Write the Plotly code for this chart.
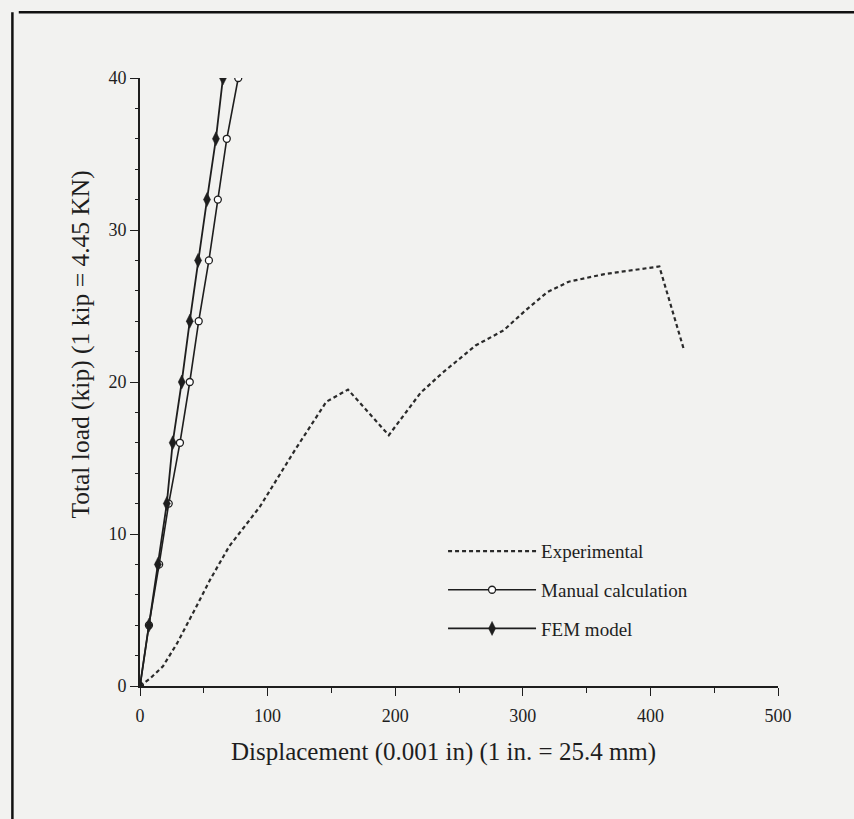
import plotly.graph_objects as go

# ---- data ----
exp_x = [0, 8, 18, 29, 44, 55, 70, 94, 122, 146, 163, 195, 220, 237, 263, 285, 302, 319, 336, 364, 407, 426]
exp_y = [0, 0.5, 1.3, 2.8, 5.2, 7.0, 9.2, 11.8, 15.6, 18.7, 19.5, 16.5, 19.3, 20.6, 22.4, 23.4, 24.7, 25.9, 26.6, 27.1, 27.6, 22.2]

load_steps = [0, 4, 8, 12, 16, 20, 24, 28, 32, 36, 40]
manual_x = [0, 7, 15, 22.5, 31.3, 39, 46, 54, 61, 68, 77]
fem_x = [0, 7, 14, 21, 25.6, 32.7, 39, 45.5, 52.5, 59.5, 65]

x_ticks = [0, 100, 200, 300, 400, 500]
y_ticks = [0, 10, 20, 30, 40]

FONT = "Liberation Serif"
INK = "#1e1e1e"

fig = go.Figure()
fig.add_trace(go.Scatter(
    x=exp_x, y=exp_y, mode="lines", name="Experimental", legendgroup="a",
    line=dict(color="#2a2a2a", width=2.2, dash="4px,3px"),
))
fig.add_trace(go.Scatter(
    x=manual_x, y=load_steps, mode="lines+markers", name="Manual calculation", legendgroup="b",
    line=dict(color=INK, width=1.6),
    marker=dict(symbol="circle", size=7, color="white", line=dict(color=INK, width=1.3)),
))
fig.add_trace(go.Scatter(
    x=fem_x, y=load_steps, mode="lines+markers", name="FEM model", legendgroup="c",
    line=dict(color=INK, width=1.8),
    marker=dict(symbol="diamond-tall", size=10, color=INK, line=dict(color=INK, width=0.5)),
))

axis_common = dict(
    showgrid=False, zeroline=False, showline=True, linecolor=INK, linewidth=1.6,
    ticks="outside", ticklen=8, tickwidth=1.4, tickcolor=INK,
    tickfont=dict(family=FONT, size=18, color=INK),
)
fig.update_xaxes(range=[0, 500], tickvals=x_ticks, ticktext=[str(v) for v in x_ticks],
                 ticklabelstandoff=5,
                 minor=dict(dtick=50, ticks="outside", ticklen=5, tickcolor=INK, tickwidth=1.2),
                 **axis_common)
fig.update_yaxes(range=[0, 40], tickvals=y_ticks, ticktext=[str(v) for v in y_ticks],
                 minor=dict(dtick=2, ticks="outside", ticklen=3, tickcolor=INK, tickwidth=1),
                 **axis_common)

fig.add_annotation(text="Displacement (0.001 in) (1 in. = 25.4 mm)", xref="paper", yref="paper",
                   x=0.476, y=-0.1086, xanchor="center", yanchor="middle", showarrow=False,
                   font=dict(family=FONT, size=25, color=INK))
fig.add_annotation(text="Total load (kip) (1 kip = 4.45 KN)", xref="paper", yref="paper",
                   x=-0.093, y=0.561, xanchor="center", yanchor="middle", showarrow=False, textangle=-90,
                   font=dict(family=FONT, size=25.5, color=INK))

# scanned page border
fig.add_shape(type="line", xref="paper", yref="paper", x0=-0.19, x1=1.2, y0=1.108, y1=1.108,
              line=dict(color="#111", width=2.5))
fig.add_shape(type="line", xref="paper", yref="paper", x0=-0.2, x1=-0.2, y0=1.108, y1=-0.22,
              line=dict(color="#111", width=2.5))

fig.update_layout(
    width=854, height=819,
    margin=dict(l=140, r=76, t=78, b=133),
    paper_bgcolor="#f2f2f0", plot_bgcolor="#f2f2f0",
    font=dict(family=FONT, color=INK),
    showlegend=True,
    legend=dict(x=0.475, y=0.253, xanchor="left", yanchor="top", bgcolor="rgba(0,0,0,0)",
                font=dict(family=FONT, size=19, color=INK), itemwidth=88, tracegroupgap=11,
                traceorder="grouped"),
)

fig.write_html("out.html")
